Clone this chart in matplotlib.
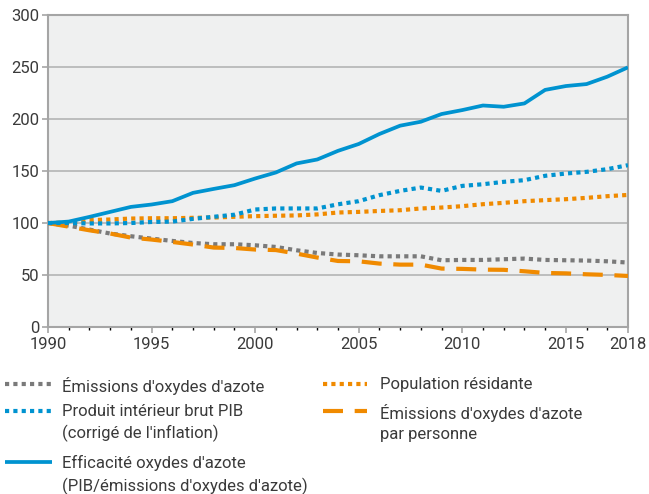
# NOx emissions vs GDP / population, index 1990 = 100
import numpy as np
import matplotlib
matplotlib.use('Agg')
import matplotlib.pyplot as plt
from matplotlib.lines import Line2D

plt.rcParams['font.family'] = ['Roboto', 'DejaVu Sans']

years = list(range(1990, 2019))

emissions = [100, 97.5, 93.7, 89.9, 87.3, 85, 82.8, 80.8, 79.6, 79.6, 78.6, 77, 73.8, 71.2,
             69.7, 69, 68, 68, 68, 64.2, 64.5, 64.5, 65.2, 65.8, 64.5, 64.2, 63.9, 63.2, 62]
gdp = [100, 100, 99.6, 99.6, 100, 101, 101.4, 104, 106, 108, 113, 114, 114, 114,
       118, 121, 126.8, 130.9, 134.1, 130.9, 135.7, 137.3, 139.6, 141.2, 145.4, 147.6, 149.2, 151.8, 155.6]
efficiency = [100, 101.4, 105.9, 110.7, 115.5, 117.8, 121, 129, 132.8, 136.4, 142.8, 148.6, 157.3, 161.1,
              169.4, 176, 185.6, 193.6, 197.4, 204.8, 208.6, 213, 211.8, 215, 228, 231.7, 233.6, 240.7, 249.7]
population = [100, 100.5, 102.8, 103.4, 104.3, 104.6, 104.6, 105, 105.3, 106, 106.6, 107, 107.3, 108.3,
              110.1, 110.7, 111.6, 112.3, 114, 114.9, 116.2, 118.1, 119.4, 121, 122, 122.9, 124.2, 125.8, 127]
per_person = [100, 96.5, 93, 89.9, 86, 84.1, 81.8, 79.3, 76.4, 76, 74.5, 74, 70.6, 66.8,
              63.5, 63.2, 61, 60, 60, 56.2, 55.9, 55.2, 55, 53.6, 52, 51.6, 50.7, 50.1, 49.1]

xticks = [1990, 1995, 2000, 2005, 2010, 2015, 2018]
yticks = [0, 50, 100, 150, 200, 250, 300]

BLUE = '#0093D0'
ORANGE = '#F08A00'
GREY = '#7A7A7A'
BG = '#EFF0F0'
GRID = '#B4B4B4'
TXT = '#3A3A3A'

DOT = (0, (1, 1))
DASH = (0, (4.8, 2.8))

series = [
    ('Émissions d\'oxydes d\'azote', emissions, GREY, DOT),
    ('Produit intérieur brut PIB\n(corrigé de l\'inflation)', gdp, BLUE, DOT),
    ('Efficacité oxydes d\'azote\n(PIB/émissions d\'oxydes d\'azote)', efficiency, BLUE, '-'),
    ('Population résidante', population, ORANGE, DOT),
    ('Émissions d\'oxydes d\'azote\npar personne', per_person, ORANGE, DASH),
]

fig = plt.figure(figsize=(6.49, 4.94), dpi=100, facecolor='white')
ax = fig.add_axes([0.074, 0.338, 0.8936, 0.6316])
ax.set_facecolor(BG)

# draw order: keep the solid line on top
for label, vals, col, ls in [series[0], series[4], series[3], series[1], series[2]]:
    lw = 2.7 if ls == '-' else 3.0
    ax.plot(years, vals, color=col, lw=lw, ls=ls, solid_capstyle='butt',
            dash_capstyle='butt', zorder=3)

ax.set_xlim(1990, 2018)
ax.set_ylim(0, 300)
ax.set_xticks(xticks)
ax.set_xticks(years, minor=True)
ax.set_yticks(yticks)
ax.grid(axis='y', color=GRID, lw=1.2, zorder=1)
ax.set_axisbelow(True)
for sp in ax.spines.values():
    sp.set_color('#A5A5A5')
    sp.set_linewidth(1.5)
ax.tick_params(axis='both', colors='#A5A5A5', labelcolor=TXT, labelsize=12, width=1.2)
ax.tick_params(axis='x', which='major', length=4, pad=3)
ax.tick_params(axis='x', which='minor', length=2.5, width=1)
ax.tick_params(axis='y', length=4, pad=2)

# legend drawn by hand, two columns
col_x = [(0.008, 0.08, 0.095), (0.497, 0.565, 0.585)]
rows_y = [0.222, 0.169, 0.064]
placement = [(0, 0), (0, 1), (0, 2), (1, 0), (1, 1)]
for (label, vals, col, ls), (c, r) in zip(series, placement):
    x0, x1, xt = col_x[c]
    y = rows_y[r]
    lw = 2.7 if ls == '-' else 3.0
    fig.add_artist(Line2D([x0, x1], [y, y], transform=fig.transFigure, color=col,
                          lw=lw, ls=ls, solid_capstyle='butt', dash_capstyle='butt'))
    fig.text(xt, y + 0.014, label, fontsize=12, color=TXT, va='top', ha='left',
             linespacing=1.45)

fig.savefig('out.png', dpi=100, facecolor='white')
